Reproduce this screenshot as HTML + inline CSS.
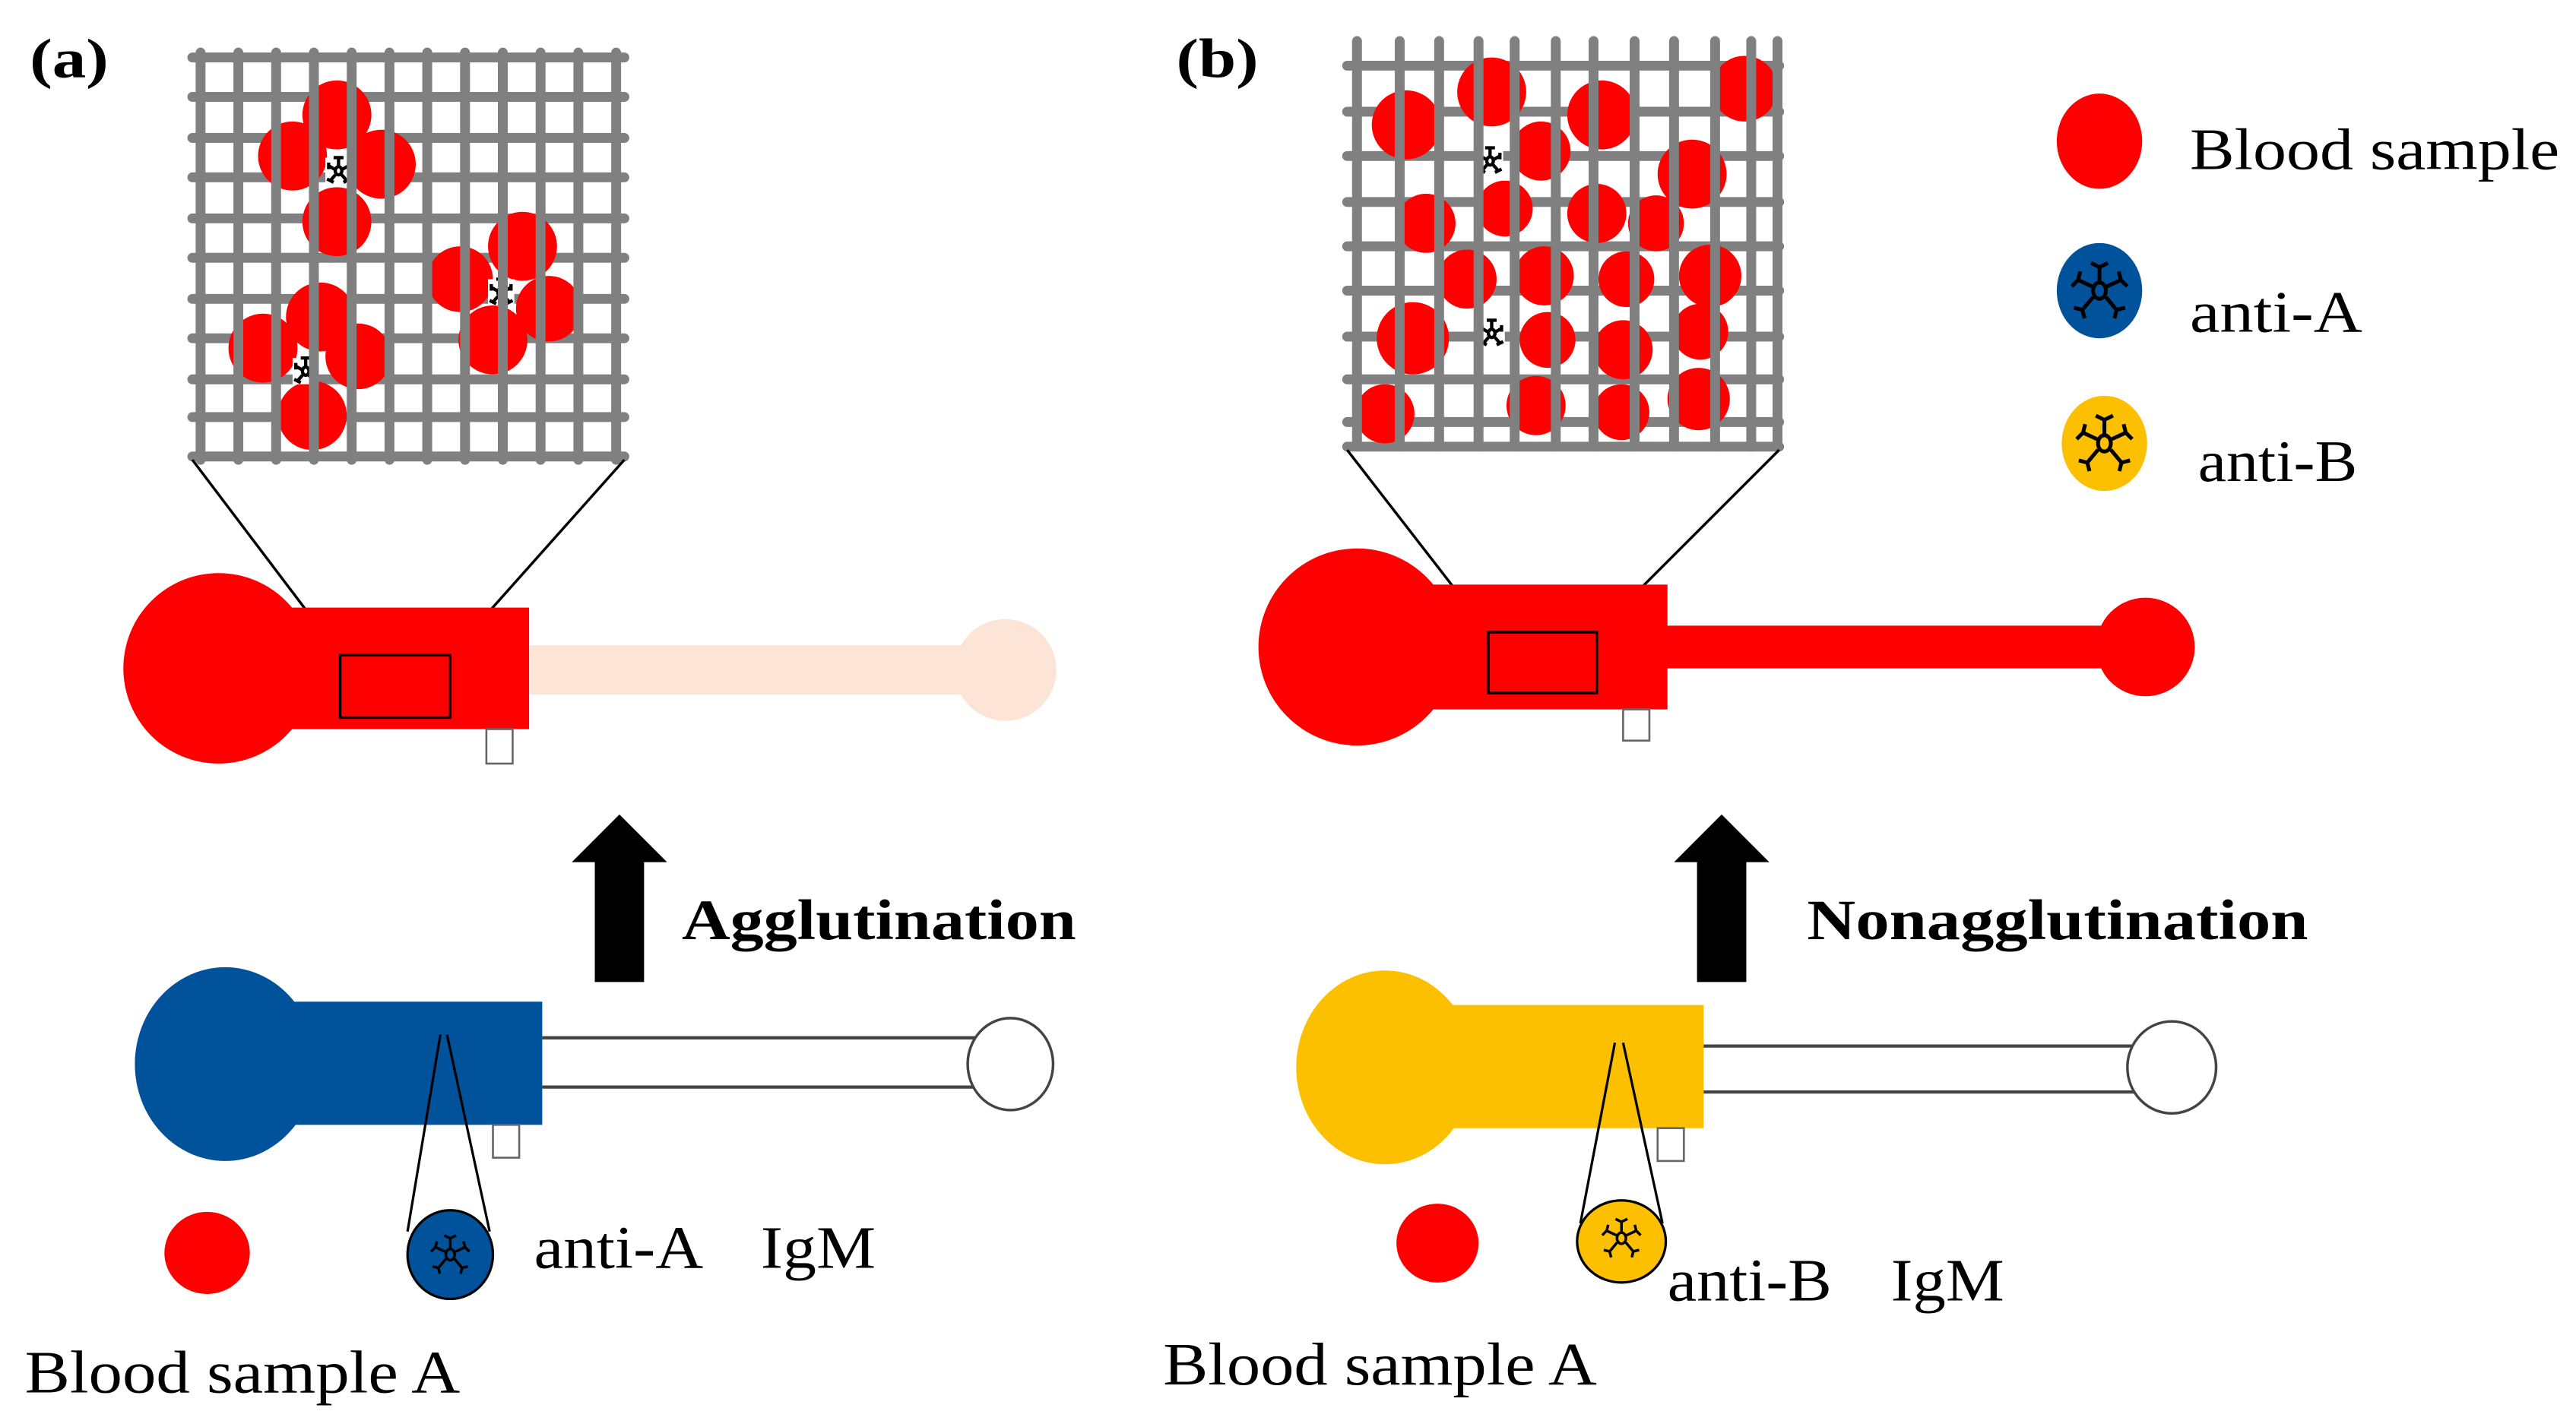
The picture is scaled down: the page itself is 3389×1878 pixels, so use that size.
<!DOCTYPE html>
<html><head><meta charset="utf-8"><style>html,body{margin:0;padding:0;background:#fff}svg{display:block}</style></head><body>
<svg width="3389" height="1878" viewBox="0 0 1568 869" xmlns="http://www.w3.org/2000/svg" font-family="'Liberation Serif', serif">
<defs>
<g id="ab" stroke="#000" stroke-width="1.8" fill="none">
<ellipse cx="0" cy="0" rx="3" ry="3.8"/>
<path d="M0,-4 V-11 M-4,-13 L0,-11 L4,-13 M3.5,-2 L10,-5 M9,-9 L10,-5 L13,-2 M3,3 L8,9 M12,8 L8,9 L7,13 M-3,3 L-8,9 M-12,8 L-8,9 L-7,13 M-3.5,-2 L-10,-5 M-9,-9 L-10,-5 L-13,-2"/>
</g>
<g id="abs" stroke="#000" stroke-width="2" fill="none">
<ellipse cx="0" cy="0" rx="2" ry="2.5"/>
<path d="M0,-3 V-7 M-3,-8 L3,-8 M2.5,-1 L6,-3 M6,-5 L6,-1 M2,2.5 L5,6 M3,7 L7,5 M-2,2.5 L-5,6 M-3,7 L-7,5 M-2.5,-1 L-6,-3 M-6,-5 L-6,-1"/>
</g>
</defs>
<rect width="1568" height="869" fill="#fff"/>
<text x="18" y="47" font-size="34" font-weight="bold" textLength="48" lengthAdjust="spacingAndGlyphs">(a)</text>
<text x="716" y="47" font-size="34" font-weight="bold" textLength="50" lengthAdjust="spacingAndGlyphs">(b)</text>

<!-- grid a -->
<g stroke="#808080" stroke-width="6" stroke-linecap="round">
<path d="M117,35H380M117,59H380M117,84H380M117,108H380M117,133H380M117,157H380M117,182H380M117,206H380M117,231H380M117,254H380M117,278H380"/>
</g>
<g fill="#ff0000">
<circle cx="205" cy="70" r="21"/><circle cx="178" cy="95" r="21"/><circle cx="232" cy="100" r="21"/><circle cx="205" cy="135" r="21"/>
<circle cx="280" cy="170" r="20"/><circle cx="318" cy="150" r="21"/><circle cx="334" cy="188" r="20"/><circle cx="300" cy="207" r="21"/>
<circle cx="195" cy="193" r="21"/><circle cx="160" cy="212" r="21"/><circle cx="218" cy="217" r="20"/><circle cx="190" cy="253" r="21"/>
</g>
<rect x="198" y="96" width="16" height="16" fill="#fff"/><use href="#abs" x="206" y="104"/>
<rect x="297" y="170" width="16" height="16" fill="#fff"/><use href="#abs" x="305" y="178"/>
<rect x="178" y="218" width="16" height="16" fill="#fff"/><use href="#abs" x="186" y="226"/>
<g stroke="#808080" stroke-width="6" stroke-linecap="round">
<path d="M122,32V280M145,32V280M168,32V280M191,32V280M214,32V280M237,32V280M260,32V280M283,32V280M306,32V280M329,32V280M352,32V280M375,32V280"/>
</g>

<!-- grid b -->
<g stroke="#808080" stroke-width="6" stroke-linecap="round">
<path d="M820,40H1083M820,68H1083M820,95H1083M820,123H1083M820,150H1083M820,177H1083M820,205H1083M820,231H1083M820,257H1083M820,272H1083"/>
</g>
<g fill="#ff0000">
<circle cx="856" cy="76" r="21"/><circle cx="908" cy="56" r="21"/><circle cx="975" cy="70" r="21"/><circle cx="1062" cy="54" r="20"/>
<circle cx="938" cy="92" r="18"/><circle cx="1030" cy="106" r="21"/><circle cx="868" cy="136" r="18"/><circle cx="916" cy="127" r="17"/>
<circle cx="972" cy="130" r="18"/><circle cx="1008" cy="136" r="17"/><circle cx="893" cy="170" r="18"/><circle cx="940" cy="168" r="18"/>
<circle cx="990" cy="170" r="17"/><circle cx="1041" cy="168" r="19"/><circle cx="860" cy="206" r="22"/><circle cx="942" cy="207" r="17"/>
<circle cx="988" cy="213" r="18"/><circle cx="1035" cy="202" r="17"/><circle cx="843" cy="252" r="18"/><circle cx="935" cy="247" r="18"/>
<circle cx="987" cy="251" r="17"/><circle cx="1034" cy="243" r="19"/>
</g>
<rect x="899" y="90" width="16" height="16" fill="#fff"/><use href="#abs" x="907" y="98"/>
<rect x="900" y="195" width="16" height="16" fill="#fff"/><use href="#abs" x="908" y="203"/>
<g stroke="#808080" stroke-width="6" stroke-linecap="round">
<path d="M826,25V272M852,25V272M876,25V272M900,25V272M922,25V272M947,25V272M970,25V272M995,25V272M1019,25V272M1044,25V272M1066,25V272M1082,25V272"/>
</g>

<!-- zoom lines -->
<g stroke="#000" stroke-width="1.6" fill="none">
<path d="M117,280L207,399M380,280L274,399"/>
<path d="M820,274L906,385M1083,274L972,385"/>
</g>

<!-- device a top -->
<circle cx="133" cy="407" r="58" fill="#ff0000"/>
<rect x="130" y="370" width="192" height="74" fill="#ff0000"/>
<rect x="322" y="393" width="290" height="30" fill="#fce4d6"/>
<circle cx="612" cy="408" r="31" fill="#fce4d6"/>
<rect x="296" y="444" width="16" height="21" fill="#fff" stroke="#666" stroke-width="1.2"/>
<rect x="207" y="399" width="67" height="38" fill="none" stroke="#000" stroke-width="1.6"/>

<!-- device b top -->
<circle cx="826" cy="394" r="60" fill="#ff0000"/>
<rect x="826" y="356" width="189" height="76" fill="#ff0000"/>
<rect x="1013" y="381" width="280" height="26" fill="#ff0000"/>
<circle cx="1306" cy="394" r="30" fill="#ff0000"/>
<rect x="988" y="432" width="16" height="19" fill="#fff" stroke="#666" stroke-width="1.2"/>
<rect x="906" y="385" width="66" height="37" fill="none" stroke="#000" stroke-width="1.6"/>

<!-- arrows -->
<path d="M377,496L406,525H392V598H362V525H348Z" fill="#000"/>
<path d="M1048,496L1077,525H1063V598H1033V525H1019Z" fill="#000"/>
<text x="415" y="572" font-size="35" font-weight="bold" textLength="240" lengthAdjust="spacingAndGlyphs">Agglutination</text>
<text x="1100" y="572" font-size="35" font-weight="bold" textLength="305" lengthAdjust="spacingAndGlyphs">Nonagglutination</text>

<!-- device a bottom -->
<ellipse cx="137" cy="648" rx="55" ry="59" fill="#00529b"/>
<rect x="137" y="610" width="193" height="75" fill="#00529b"/>
<path d="M330,632H596M330,662H596" stroke="#444" stroke-width="2"/>
<ellipse cx="615" cy="648" rx="26" ry="28" fill="#fff" stroke="#444" stroke-width="1.6"/>
<rect x="300" y="685" width="16" height="20" fill="#fff" stroke="#666" stroke-width="1.2"/>
<path d="M268,630L248,750M272,630L298,750" stroke="#000" stroke-width="1.5"/>
<ellipse cx="274" cy="764" rx="26" ry="27" fill="#00529b" stroke="#000" stroke-width="1.5"/>
<use href="#ab" transform="translate(274,764) scale(0.9)"/>
<ellipse cx="126" cy="763" rx="26" ry="25" fill="#ff0000"/>
<text x="325" y="772" font-size="37" textLength="103" lengthAdjust="spacingAndGlyphs">anti-A</text>
<text x="463" y="772" font-size="37" textLength="70" lengthAdjust="spacingAndGlyphs">IgM</text>
<text x="15" y="848" font-size="37" textLength="265" lengthAdjust="spacingAndGlyphs">Blood sample A</text>

<!-- device b bottom -->
<ellipse cx="843" cy="650" rx="54" ry="59" fill="#fcc000"/>
<rect x="843" y="612" width="194" height="75" fill="#fcc000"/>
<path d="M1037,637H1300M1037,665H1300" stroke="#444" stroke-width="2"/>
<ellipse cx="1322" cy="650" rx="27" ry="28" fill="#fff" stroke="#444" stroke-width="1.6"/>
<rect x="1009" y="687" width="16" height="20" fill="#fff" stroke="#666" stroke-width="1.2"/>
<path d="M983,635L962,745M988,635L1012,745" stroke="#000" stroke-width="1.5"/>
<ellipse cx="987" cy="756" rx="27" ry="25" fill="#fcc000" stroke="#000" stroke-width="1.5"/>
<use href="#ab" transform="translate(987,754) scale(0.9)"/>
<ellipse cx="875" cy="757" rx="25" ry="24" fill="#ff0000"/>
<text x="1015" y="792" font-size="37" textLength="100" lengthAdjust="spacingAndGlyphs">anti-B</text>
<text x="1151" y="792" font-size="37" textLength="69" lengthAdjust="spacingAndGlyphs">IgM</text>
<text x="708" y="843" font-size="37" textLength="264" lengthAdjust="spacingAndGlyphs">Blood sample A</text>

<!-- legend -->
<ellipse cx="1278" cy="86" rx="26" ry="29" fill="#ff0000"/>
<text x="1333" y="103" font-size="36" textLength="225" lengthAdjust="spacingAndGlyphs">Blood sample</text>
<ellipse cx="1278" cy="177" rx="26" ry="29" fill="#00529b"/>
<use href="#ab" transform="translate(1278,177) scale(1.3)"/>
<text x="1333" y="202" font-size="36" textLength="105" lengthAdjust="spacingAndGlyphs">anti-A</text>
<ellipse cx="1281" cy="270" rx="26" ry="29" fill="#fcc000"/>
<use href="#ab" transform="translate(1281,270) scale(1.3)"/>
<text x="1338" y="293" font-size="36" textLength="97" lengthAdjust="spacingAndGlyphs">anti-B</text>
</svg>
</body></html>
